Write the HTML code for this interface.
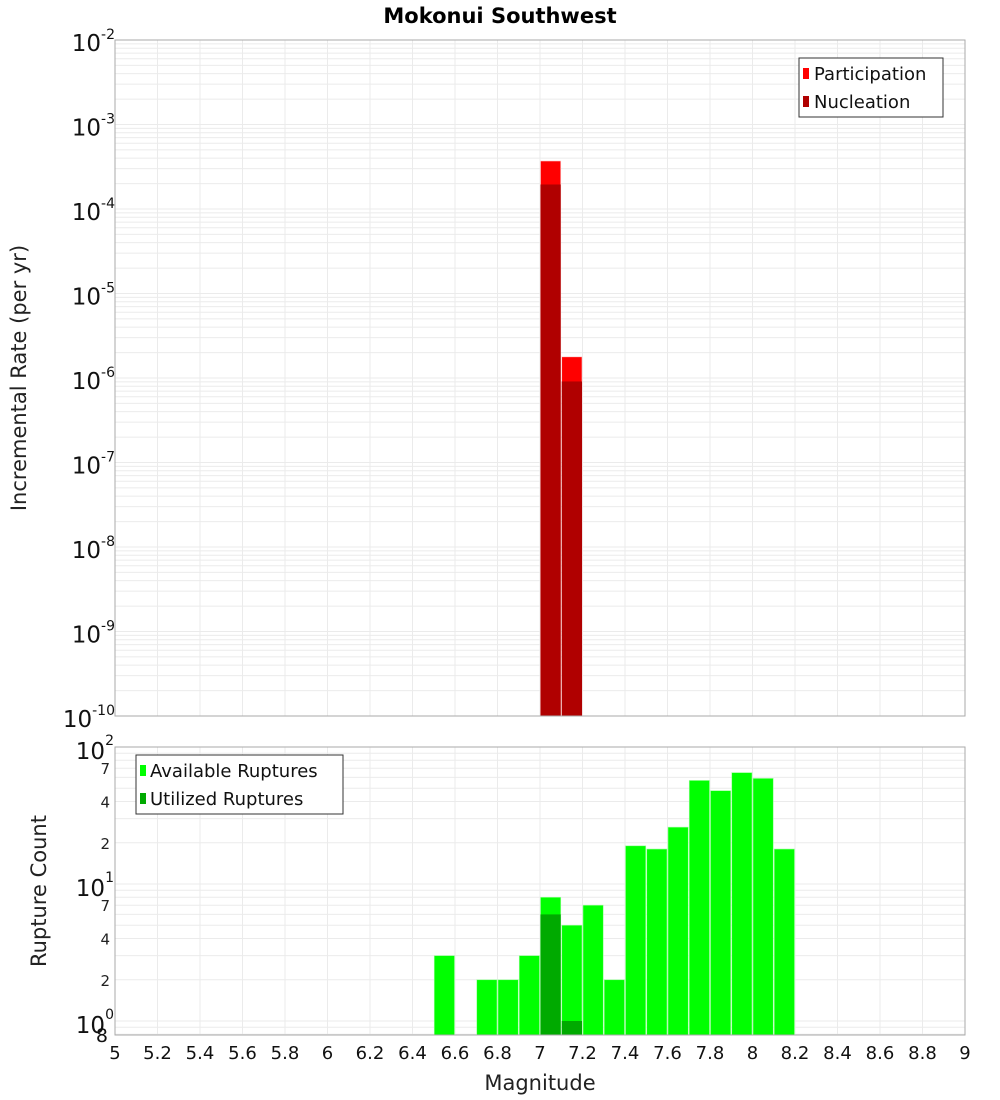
<!DOCTYPE html>
<html><head><meta charset="utf-8"><style>
body{margin:0;background:#fff}
svg{display:block;font-family:"DejaVu Sans","Liberation Sans",sans-serif}
</style></head><body>
<svg id="chart" width="1000" height="1100" viewBox="0 0 1000 1100">
<text x="500" y="23" text-anchor="middle" font-size="21" font-weight="bold">Mokonui Southwest</text>
<g id="topG"></g>
<g id="botG"></g>
<text transform="translate(26,378) rotate(-90)" text-anchor="middle" font-size="21" fill="#222">Incremental Rate (per yr)</text>
<text transform="translate(46,891) rotate(-90)" text-anchor="middle" font-size="21" fill="#222">Rupture Count</text>
<text x="540" y="1090" text-anchor="middle" font-size="21" fill="#222">Magnitude</text>
</svg>
<script>
const rateMags=[7.05,7.15];
const participation=[3.7e-4,1.78e-6];
const nucleation=[1.95e-4,9.1e-7];
const countMags=[6.55,6.75,6.85,6.95,7.05,7.15,7.25,7.35,7.45,7.55,7.65,7.75,7.85,7.95,8.05,8.15];
const available=[3,2,2,3,8,5,7,2,19,18,26,57,48,65,59,18];
const utilizedMags=[7.05,7.15];
const utilized=[6,1];
const xTicks=[5,5.2,5.4,5.6,5.8,6,6.2,6.4,6.6,6.8,7,7.2,7.4,7.6,7.8,8,8.2,8.4,8.6,8.8,9];
const rateExps=[-2,-3,-4,-5,-6,-7,-8,-9,-10];
const countExps=[2,1,0];
const countMinorLabels=[2,4,7];

const NS="http://www.w3.org/2000/svg";
const X0=115,X1=965;
const xs=m=>X0+(m-5)/4*(X1-X0);
const T0=40,T1=716;
const yTop=v=>T0+(-2-Math.log10(v))*(T1-T0)/8;
const B0=747,B1=1035;
const PB=137;
const yBot=v=>B0+(2-Math.log10(v))*PB;
function el(p,tag,a,txt){const e=document.createElementNS(NS,tag);for(const k in a)e.setAttribute(k,a[k]);if(txt!==undefined)e.textContent=txt;p.appendChild(e);return e;}
const topG=document.getElementById('topG'),botG=document.getElementById('botG');
const bw=xs(5.1)-xs(5);

el(topG,'rect',{x:X0,y:T0,width:X1-X0,height:T1-T0,fill:'#fff'});
for(let d=-10;d<-2;d++)for(let k=1;k<10;k++){const yy=yTop(k*Math.pow(10,d));
 const g=el(topG,'line',{x1:X0,x2:X1,y1:yy,y2:yy,stroke:'#ebebeb','stroke-width':1});
 
 }
xTicks.forEach(t=>{const l=el(topG,'line',{x1:xs(t),x2:xs(t),y1:T0,y2:T1,stroke:'#ebebeb'});
 
 });
rateExps.forEach(e=>{const yy=yTop(Math.pow(10,e));
 const t=el(topG,'text',{x:105,y:yy+11,'text-anchor':'end','font-size':23,fill:'#111'});
 
 
 el(t,'tspan',{},'10');el(t,'tspan',{dy:-12,'font-size':14},String(e));
 t.setAttribute('transform','translate(10,0)');});
rateMags.forEach((m,i)=>{
 const a=el(topG,'rect',{x:xs(m)-bw/2+0.5,y:yTop(participation[i]),width:bw-1,height:T1-yTop(participation[i]),fill:'#ff0000',stroke:'#ffd0d0','stroke-width':0.6});
 
 
 const b=el(topG,'rect',{x:xs(m)-bw/2+0.5,y:yTop(nucleation[i]),width:bw-1,height:T1-yTop(nucleation[i]),fill:'#b00000'});
 
 });
el(topG,'rect',{x:X0,y:T0,width:X1-X0,height:T1-T0,fill:'none',stroke:'#aaa'});
const lg=el(topG,'g',{});


el(lg,'rect',{x:799,y:58,width:144,height:59,fill:'#fff',stroke:'#333'});
el(lg,'rect',{x:803,y:68,width:6,height:11,fill:'#ff0000'});
el(lg,'text',{x:814,y:80,'font-size':18,fill:'#111'},'Participation');
el(lg,'rect',{x:803,y:96,width:6,height:11,fill:'#b00000'});
el(lg,'text',{x:814,y:108,'font-size':18,fill:'#111'},'Nucleation');

el(botG,'rect',{x:X0,y:B0,width:X1-X0,height:B1-B0,fill:'#fff'});
for(let d=-1;d<2;d++)for(let k=1;k<10;k++){const v=k*Math.pow(10,d);const yy=yBot(v);if(yy>B1||yy<B0)continue;
 const g=el(botG,'line',{x1:X0,x2:X1,y1:yy,y2:yy,stroke:'#ebebeb'});
 
 }
xTicks.forEach(t=>{const l=el(botG,'line',{x1:xs(t),x2:xs(t),y1:B0,y2:B1,stroke:'#ebebeb'});
 
 
 const tl=el(botG,'text',{x:xs(t),y:1059,'text-anchor':'middle','font-size':18,fill:'#111'},String(t));
 
 });
countExps.forEach(e=>{const yy=yBot(Math.pow(10,e));
 const t=el(botG,'text',{x:100,y:yy+12,'text-anchor':'end','font-size':23,fill:'#111'});
 
 
 el(t,'tspan',{},'10');el(t,'tspan',{dy:-14,'font-size':14},String(e));
 t.setAttribute('transform','translate(14,0)');});
[1,10].forEach(base=>countMinorLabels.forEach(k=>{const yy=yBot(k*base);
 const t=el(botG,'text',{x:110,y:yy+6,'text-anchor':'end','font-size':15,fill:'#222'},String(k));
 
 }));
{const t=el(botG,'text',{x:108,y:1042,'text-anchor':'end','font-size':19,fill:'#111'},'8');
 
 }
countMags.forEach((m,i)=>{const yy=yBot(available[i]);
 const r=el(botG,'rect',{x:xs(m)-bw/2+0.5,y:yy,width:bw-1,height:B1-yy,fill:'#00ff00',stroke:'#9dff9d','stroke-width':0.6});
 
 });
utilizedMags.forEach((m,i)=>{const yy=yBot(utilized[i]);
 const r=el(botG,'rect',{x:xs(m)-bw/2+0.5,y:yy,width:bw-1,height:B1-yy,fill:'#00aa00'});
 
 });
el(botG,'rect',{x:X0,y:B0,width:X1-X0,height:B1-B0,fill:'none',stroke:'#aaa'});
const lg2=el(botG,'g',{});


el(lg2,'rect',{x:136,y:755,width:207,height:59,fill:'#fff',stroke:'#333'});
el(lg2,'rect',{x:140,y:765,width:6,height:11,fill:'#00ff00'});
el(lg2,'text',{x:150,y:777,'font-size':18,fill:'#111'},'Available Ruptures');
el(lg2,'rect',{x:140,y:793,width:6,height:11,fill:'#00aa00'});
el(lg2,'text',{x:150,y:805,'font-size':18,fill:'#111'},'Utilized Ruptures');
</script>
</body></html>
